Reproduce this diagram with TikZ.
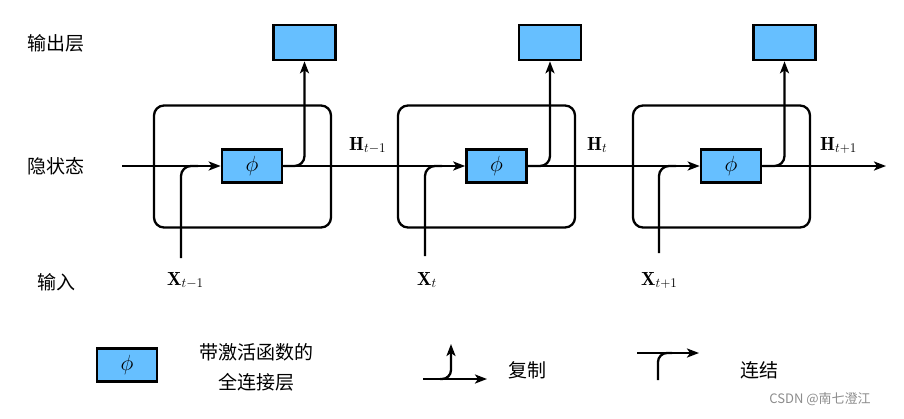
\RequirePackage{fix-cm}
\documentclass[tikz,border=0pt]{standalone}
\usepackage{fontspec}
\newfontfamily\cjk{Noto Sans CJK SC}
\usetikzlibrary{arrows.meta}
\definecolor{boxblue}{RGB}{102,191,255}
\newcommand\phisz{\fontsize{22}{22}\selectfont}
\newcommand\varsz{\fontsize{19}{19}\selectfont}
\begin{document}
\begin{tikzpicture}[x=1pt,y=-1pt,
  cellbox/.style={draw, line width=2.3pt, rounded corners=10pt, minimum width=177pt, minimum height=122pt, inner sep=0},
  phibox/.style={draw, line width=2.6pt, fill=boxblue, minimum width=60pt, minimum height=33pt, inner sep=0},
  outbox/.style={draw, line width=2.6pt, fill=boxblue, minimum width=62pt, minimum height=35pt, inner sep=0},
  conn/.style={line width=2.3pt},
  arr/.style={conn, -{Stealth[length=12pt,width=9pt,inset=3pt]}},
  lab/.style={font=\cjk\fontsize{19}{19}\selectfont, inner sep=0},
  vlab/.style={anchor=base west, inner sep=0}
]
\useasboundingbox (0,0) rectangle (904,418);
% row labels
\node[lab] (lout) at (56,43) {输出层};
\node[lab] (lhid) at (56,166) {隐状态};
\node[lab] (lin) at (56,282) {输入};
% cells
\node[cellbox] (cell1) at (242.5,166.5) {};
\node[cellbox] (cell2) at (486.5,166.5) {};
\node[cellbox] (cell3) at (721.5,166.5) {};
% phi boxes
\node[phibox] (phi1) at (252,166) {\phisz$\phi$};
\node[phibox] (phi2) at (496.5,166) {\phisz$\phi$};
\node[phibox] (phi3) at (731,166) {\phisz$\phi$};
% output boxes
\node[outbox] (out1) at (304.5,42.5) {};
\node[outbox] (out2) at (550,42.5) {};
\node[outbox] (out3) at (784.5,42.5) {};
% coordinates
\coordinate (in) at (122,166);
\coordinate (end) at (886,166);
\coordinate (x1) at (181,258);
\coordinate (x2) at (425,256);
\coordinate (x3) at (659,253);
\coordinate (m1) at (198,166);
\coordinate (m2) at (442,166);
\coordinate (m3) at (676,166);
% hidden state chain
\draw[arr] (in) -- (phi1.west);
\draw[arr] (phi1.east) -- (phi2.west);
\draw[arr] (phi2.east) -- (phi3.west);
\draw[arr] (phi3.east) -- (end);
% inputs
\draw[conn, rounded corners=10pt] (x1) |- (m1);
\draw[conn, rounded corners=10pt] (x2) |- (m2);
\draw[conn, rounded corners=10pt] (x3) |- (m3);
% outputs
\draw[arr, rounded corners=10pt] (phi1.east) -| (out1.south);
\draw[arr, rounded corners=10pt] (phi2.east) -| (out2.south);
\draw[arr, rounded corners=10pt] (phi3.east) -| (out3.south);
% variable labels
\node[vlab] (h1) at (349,150) {\varsz$\mathbf{H}_{t-1}$};
\node[vlab] (h2) at (587,150) {\varsz$\mathbf{H}_{t}$};
\node[vlab] (h3) at (820,150) {\varsz$\mathbf{H}_{t+1}$};
\node[vlab] (xl1) at (167,285) {\varsz$\mathbf{X}_{t-1}$};
\node[vlab] (xl2) at (417,285) {\varsz$\mathbf{X}_{t}$};
\node[vlab] (xl3) at (641,285) {\varsz$\mathbf{X}_{t+1}$};
% legend
\node[phibox] (lphi) at (127,365) {\phisz$\phi$};
\node[lab] (lt1) at (256,352) {带激活函数的};
\node[lab] (lt2) at (256,382) {全连接层};
\coordinate (c1) at (423,379);
\coordinate (c2) at (487,379);
\coordinate (cb) at (440,379);
\coordinate (c3) at (451,344);
\draw[arr] (c1) -- (c2);
\draw[arr, rounded corners=9pt] (cb) -| (c3);
\node[lab] (lcopy) at (527,370) {复制};
\coordinate (k1) at (637,353);
\coordinate (k2) at (699,353);
\coordinate (kv) at (658,380);
\coordinate (km) at (672,353);
\draw[arr] (k1) -- (k2);
\draw[conn, rounded corners=9pt] (kv) |- (km);
\node[lab] (lcat) at (759,370) {连结};
\node[font=\cjk\fontsize{13}{13}\selectfont, text=black!45, inner sep=0] (wm) at (820,399) {CSDN @南七澄江};
\end{tikzpicture}
\end{document}
